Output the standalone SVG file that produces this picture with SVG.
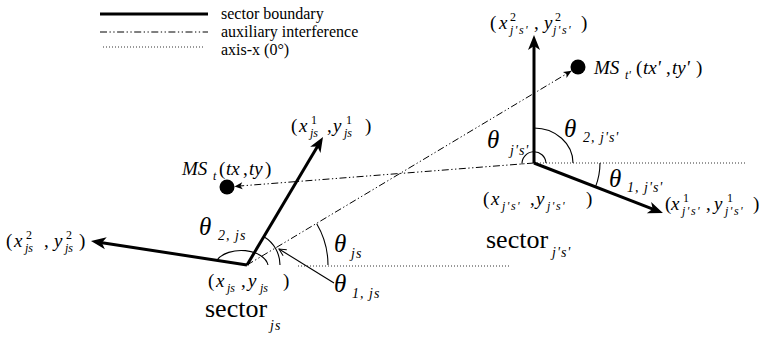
<svg xmlns="http://www.w3.org/2000/svg" width="762" height="339" viewBox="0 0 762 339">
<style>
.t{fill:#000;font-family:'Liberation Serif','Times New Roman',serif}
.v{font-style:italic}
.m{font-size:19px}
.s{font-size:12px}
.sp{font-size:12px;font-style:italic;letter-spacing:1.5px}
.th{font-size:25px;font-style:italic}
.ts{font-size:14px;font-style:italic;letter-spacing:1px}
.sec{font-size:26px}
.lg{font-size:16px}
.bold{stroke:#000;stroke-width:3;fill:none}
.dd{stroke:#000;stroke-width:1;fill:none;stroke-dasharray:7 2.5 1.3 2.5 1.3 2.5}
.dot{stroke:#333;stroke-width:1;fill:none;stroke-dasharray:1 2}
.arc{stroke:#000;stroke-width:1.1;fill:none}
</style>
<defs>
<marker id="ah" markerUnits="userSpaceOnUse" viewBox="-8 -7 17 14" refX="0" refY="0" markerWidth="17" markerHeight="14" orient="auto">
<path d="M8,0 L-7,-6 L-3,0 L-7,6 Z" fill="#000"/>
</marker>
<marker id="sa" markerUnits="userSpaceOnUse" viewBox="-9 -5 10 10" refX="0" refY="0" markerWidth="10" markerHeight="10" orient="auto">
<path d="M0,0 L-8,-3.5 L-6,0 L-8,3.5 Z" fill="#000"/>
</marker>
<marker id="oa" markerUnits="userSpaceOnUse" viewBox="-9 -5 10 10" refX="0" refY="0" markerWidth="10" markerHeight="10" orient="auto">
<path d="M-7,-3.5 L0,0 L-7,3.5" fill="none" stroke="#000" stroke-width="1"/>
</marker>
</defs>

<g id="legend">
<line x1="100" y1="14" x2="208" y2="14" class="bold"/>
<line x1="100" y1="32" x2="208" y2="32" class="dd"/>
<line x1="103" y1="47" x2="205" y2="47" class="dot"/>
<text class="t lg" x="221" y="19">sector boundary</text>
<text class="t lg" x="221" y="37">auxiliary interference</text>
<text class="t lg" x="221" y="55">axis-x (0°)</text>
</g>

<g id="connectors">
<line x1="534" y1="163" x2="234.5" y2="186.4" class="dd" marker-end="url(#sa)"/>
<line x1="247" y1="265" x2="571.6" y2="70.8" class="dd" marker-end="url(#sa)"/>
</g>

<g id="ms-t">
<circle cx="227" cy="187" r="7.5" fill="#000"/>
<text class="t m"><tspan x="182" y="175" class="v">MS</tspan><tspan x="213" y="180" class="s v">t</tspan><tspan x="219" y="175">(</tspan><tspan x="226" y="175" class="v">tx</tspan><tspan x="243" y="175">,</tspan><tspan x="249" y="175" class="v">ty</tspan><tspan x="265" y="175">)</tspan></text>
</g>

<g id="ms-tp">
<circle cx="578" cy="67" r="7.5" fill="#000"/>
<text class="t m"><tspan x="594" y="74" class="v">MS</tspan><tspan x="625" y="79" class="s v">t'</tspan><tspan x="636" y="74">(</tspan><tspan x="643" y="74" class="v">tx'</tspan><tspan x="666" y="74">,</tspan><tspan x="672" y="74" class="v">ty'</tspan><tspan x="696" y="74">)</tspan></text>
</g>

<g id="sector-js">
<line x1="298" y1="266" x2="510" y2="266" class="dot"/>
<line x1="247" y1="265" x2="98.9" y2="242.2" class="bold" marker-end="url(#ah)"/>
<line x1="247" y1="265" x2="318.9" y2="143.9" class="bold" marker-end="url(#ah)"/>
<path d="M217,260 A27 17 0 0 1 268,265" class="arc"/>
<path d="M280,265 A33 33 0 0 0 264,236.7" class="arc"/>
<path d="M328,265 A81 81 0 0 0 316.7,223.8" class="arc"/>
<line x1="334" y1="283" x2="279" y2="249" stroke="#000" stroke-width="1.1" marker-end="url(#oa)"/>
<text class="t m"><tspan x="6" y="247">(</tspan><tspan x="14" y="247" class="v">x</tspan><tspan x="26" y="239" class="s">2</tspan><tspan x="25" y="252" class="s v">js</tspan><tspan x="44" y="247">,</tspan><tspan x="54" y="247" class="v">y</tspan><tspan x="66" y="239" class="s">2</tspan><tspan x="65" y="252" class="s v">js</tspan><tspan x="79" y="247">)</tspan></text>
<text class="t m"><tspan x="291" y="132">(</tspan><tspan x="299" y="132" class="v">x</tspan><tspan x="311" y="124" class="s">1</tspan><tspan x="310" y="137" class="s v">js</tspan><tspan x="327" y="132">,</tspan><tspan x="333" y="132" class="v">y</tspan><tspan x="346" y="124" class="s">1</tspan><tspan x="344" y="137" class="s v">js</tspan><tspan x="365" y="132">)</tspan></text>
<text class="t m"><tspan x="208" y="287">(</tspan><tspan x="216" y="287" class="v">x</tspan><tspan x="227" y="292" class="s v">js</tspan><tspan x="241" y="287">,</tspan><tspan x="248" y="287" class="v">y</tspan><tspan x="260" y="292" class="s v">js</tspan><tspan x="283" y="287">)</tspan></text>
<text class="t"><tspan x="205" y="317" class="sec">sector</tspan><tspan x="270" y="330" class="ts">js</tspan></text>
<text class="t"><tspan x="199" y="235" class="th">θ</tspan><tspan x="218" y="240" class="ts">2, js</tspan></text>
<text class="t"><tspan x="334" y="252" class="th">θ</tspan><tspan x="351" y="258" class="ts">js</tspan></text>
<text class="t"><tspan x="334" y="292" class="th">θ</tspan><tspan x="352" y="298" class="ts">1, js</tspan></text>
</g>

<g id="sector-jps">
<line x1="534" y1="163" x2="747" y2="163" class="dot"/>
<line x1="534" y1="163" x2="534" y2="43" class="bold" marker-end="url(#ah)"/>
<line x1="534" y1="163" x2="655.5" y2="210.1" class="bold" marker-end="url(#ah)"/>
<path d="M534,128 A39 35 0 0 1 573,163" class="arc"/>
<path d="M522,164.5 A12 12 0 0 1 546,163" class="arc"/>
<path d="M600,163 A66 66 0 0 1 595.5,186.9" class="arc"/>
<text class="t m"><tspan x="490" y="29">(</tspan><tspan x="499" y="29" class="v">x</tspan><tspan x="510" y="21" class="s">2</tspan><tspan x="510" y="34" class="sp">j's'</tspan><tspan x="534" y="29">,</tspan><tspan x="544" y="29" class="v">y</tspan><tspan x="555" y="21" class="s">2</tspan><tspan x="553" y="34" class="sp">j's'</tspan><tspan x="581" y="29">)</tspan></text>
<text class="t m"><tspan x="483" y="205">(</tspan><tspan x="491" y="205" class="v">x</tspan><tspan x="502" y="210" class="sp">j's'</tspan><tspan x="530" y="205">,</tspan><tspan x="536" y="205" class="v">y</tspan><tspan x="547" y="210" class="sp">j's'</tspan><tspan x="586" y="205">)</tspan></text>
<text class="t m"><tspan x="665" y="210">(</tspan><tspan x="671" y="210" class="v">x</tspan><tspan x="683" y="202" class="s">1</tspan><tspan x="682" y="215" class="sp">j's'</tspan><tspan x="706" y="210">,</tspan><tspan x="714" y="210" class="v">y</tspan><tspan x="727" y="202" class="s">1</tspan><tspan x="725" y="215" class="sp">j's'</tspan><tspan x="753" y="210">)</tspan></text>
<text class="t"><tspan x="486" y="248" class="sec">sector</tspan><tspan x="552" y="257" class="ts">j's'</tspan></text>
<text class="t"><tspan x="487" y="148" class="th">θ</tspan><tspan x="510" y="155" class="ts">j's'</tspan></text>
<text class="t"><tspan x="564" y="137" class="th">θ</tspan><tspan x="583" y="142" class="ts">2, j's'</tspan></text>
<text class="t"><tspan x="609" y="187" class="th">θ</tspan><tspan x="627" y="192" class="ts">1, j's'</tspan></text>
</g>
</svg>
